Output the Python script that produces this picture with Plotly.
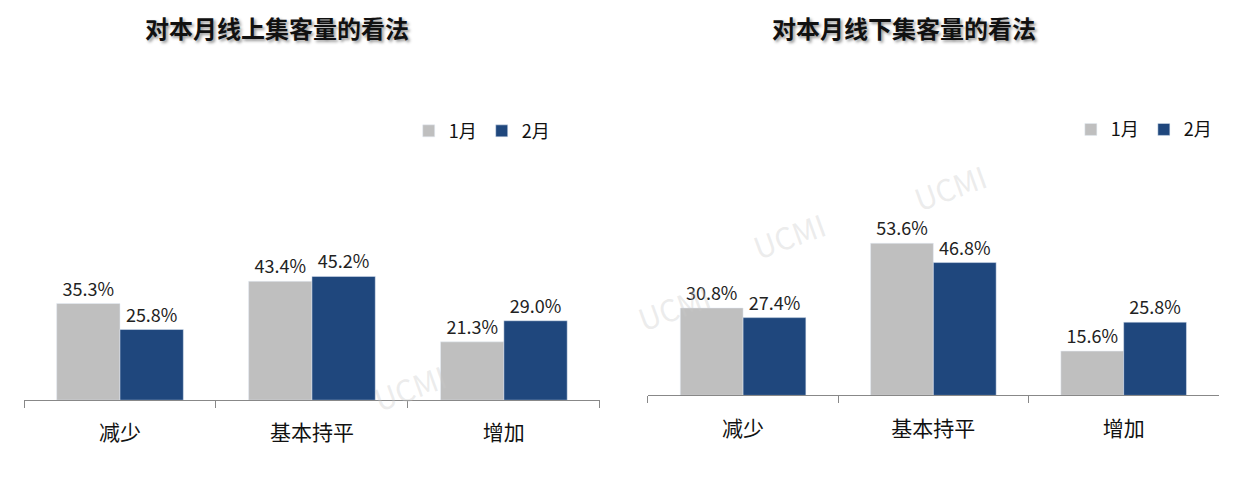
import plotly.graph_objects as go

categories = ["减少", "基本持平", "增加"]
online_jan = [35.3, 43.4, 21.3]
online_feb = [25.8, 45.2, 29.0]
offline_jan = [30.8, 53.6, 15.6]
offline_feb = [27.4, 46.8, 25.8]
titles = ["对本月线上集客量的看法", "对本月线下集客量的看法"]

GRAY = "#bfbfbf"
BLUE = "#1f477d"
FONT = "Noto Sans CJK SC"

fig = go.Figure()
for i, (jan, feb) in enumerate([(online_jan, online_feb), (offline_jan, offline_feb)]):
    xa = "x" if i == 0 else "x2"
    ya = "y" if i == 0 else "y2"
    lg = "legend" if i == 0 else "legend2"
    for name, vals, col in [("1月", jan, GRAY), ("2月", feb, BLUE)]:
        fig.add_trace(go.Bar(
            x=categories, y=vals, name=name, marker_color=col,
            xaxis=xa, yaxis=ya, legend=lg,
            text=[f"{v:.1f}%" for v in vals], textposition="outside",
            textfont=dict(size=18, color="#222"), cliponaxis=False,
        ))

axis_x = dict(type="category", showline=True, linecolor="#888", ticks="outside",
              tickson="boundaries", ticklen=7, tickcolor="#888", ticklabelstandoff=14,
              tickfont=dict(size=21, color="#111"), showgrid=False)
axis_y = dict(visible=False, showgrid=False)

fig.update_layout(
    width=1233, height=483,
    margin=dict(l=0, r=0, t=0, b=0),
    plot_bgcolor="white", paper_bgcolor="white",
    font=dict(family=FONT),
    barmode="group", bargap=0.34, bargroupgap=0,
    xaxis=dict(axis_x, domain=[0.013, 0.48], anchor="y"),
    yaxis=dict(axis_y, domain=[0.188, 0.809], range=[0, 109.5]),
    xaxis2=dict(axis_x, domain=[0.519, 0.982], anchor="y2"),
    yaxis2=dict(axis_y, domain=[0.198, 0.809], range=[0, 104]),
    legend=dict(orientation="h", x=0.325, y=0.745, xanchor="left", yanchor="middle",
                font=dict(size=18, color="#111"), bgcolor="rgba(0,0,0,0)"),
    legend2=dict(orientation="h", x=0.862, y=0.748, xanchor="left", yanchor="middle",
                 font=dict(size=18, color="#111"), bgcolor="rgba(0,0,0,0)"),
)

for x, t in [(0.218, titles[0]), (0.727, titles[1])]:
    fig.add_annotation(x=x, y=1.0, xref="paper", yref="paper", text=f"<b>{t}</b>",
                       showarrow=False, xanchor="center", yanchor="top",
                       font=dict(size=24, color="#111", shadow="2px 2px 3px #999"))

for x, y in [(0.54, 0.38), (0.67, 0.53), (0.8, 0.63), (0.29, 0.14)]:
    fig.add_annotation(x=x, y=y, xref="paper", yref="paper", text="UCMI", showarrow=False,
                       textangle=-20, font=dict(size=30, color="rgba(200,200,200,0.35)"))

fig.write_html("out.html")
